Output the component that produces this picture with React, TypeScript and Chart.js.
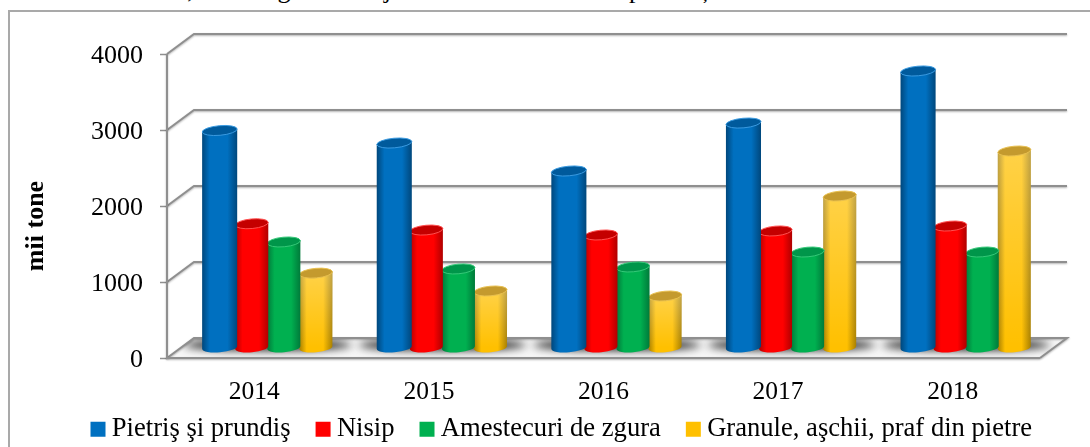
import React, { useEffect, useRef } from "react";
import { Chart, registerables } from "chart.js";

Chart.register(...registerables);

const categories = ["2014", "2015", "2016", "2017", "2018"];
const seriesNames = ["Pietriş şi prundiş", "Nisip", "Amestecuri de zgura", "Granule, aşchii, praf din pietre"];
const pietris = [2862, 2697, 2329, 2960, 3645];
const nisip = [1635, 1552, 1487, 1540, 1605];
const zgura = [1395, 1040, 1066, 1263, 1263];
const granule = [985, 750, 684, 2000, 2592];
const seriesValues = [pietris, nisip, zgura, granule];
const seriesColors = ["#0070c0", "#ff0000", "#00b050", "#ffc000"];
const capColors = ["#005a9c", "#c40000", "#00964a", "#c49a2e"];
const edgeColors = ["#00477c", "#b00000", "#007a3a", "#a87f00"];
const rimColors = ["#3a9ae0", "#ff5050", "#35c878", "#e8c050"];
const extraWidth = [3, 1, 1, 1];
const yTicks = [0, 1000, 2000, 3000, 4000];
const yTitle = "mii tone";
const sentence = "rele din care base, au înregistrat majoritatea volumului de producție.";

const SERIF = "'Liberation Serif', 'Times New Roman', serif";
const DX = 27, DY = -20; // depth of the 3D box

const box3d = {
  id: "box3d",
  beforeDatasetsDraw(chart: any) {
    const { ctx, chartArea: a, scales } = chart;
    const y = scales.y, x = scales.x;
    const y0 = y.getPixelForValue(0);
    ctx.save();
    ctx.lineJoin = "miter";
    ctx.beginPath();
    ctx.moveTo(a.left, y0);
    ctx.lineTo(a.left + DX, y0 + DY);
    ctx.lineTo(a.right + DX, y0 + DY);
    ctx.lineTo(a.right, y0);
    ctx.closePath();
    ctx.fillStyle = "#f7f7f7";
    ctx.fill();
    ctx.save();
    ctx.clip();
    ctx.filter = "blur(4px)";
    ctx.fillStyle = "rgba(30,30,30,1)";
    categories.forEach((_, i) => {
      ctx.beginPath();
      ctx.ellipse(x.getPixelForTick(i) + DX / 2, y0 + DY / 2 - 3, 84, 5.5, 0, 0, Math.PI * 2);
      ctx.fill();
    });
    ctx.restore();
    ctx.strokeStyle = "#8f8f8f";
    ctx.lineWidth = 2;
    ctx.shadowColor = "rgba(0,0,0,0.3)";
    ctx.shadowBlur = 2;
    ctx.shadowOffsetY = 1;
    yTicks.forEach((t) => {
      const p = y.getPixelForValue(t);
      ctx.beginPath();
      ctx.moveTo(a.left, p);
      ctx.lineTo(a.left + DX, p + DY);
      ctx.lineTo(a.right + DX, p + DY);
      if (t === 0) ctx.lineTo(a.right, p);
      ctx.stroke();
    });
    ctx.beginPath();
    ctx.moveTo(a.left, y.getPixelForValue(4000));
    ctx.lineTo(a.left, y0);
    ctx.lineTo(a.right, y0);
    ctx.stroke();
    ctx.restore();
    ctx.save();
    ctx.translate(36, 226);
    ctx.rotate(-Math.PI / 2);
    ctx.font = `bold 26px ${SERIF}`;
    ctx.fillStyle = "#000";
    ctx.textAlign = "center";
    ctx.textBaseline = "middle";
    ctx.fillText(yTitle, 0, 0);
    ctx.restore();
  },
  beforeDatasetDraw(chart: any, args: any) {
    const { ctx } = chart;
    const k = args.index;
    const meta = args.meta;
    ctx.save();
    ctx.translate(DX / 2, DY / 2);
    meta.data.forEach((el: any) => {
      const { x, y, base, width } = el.getProps(["x", "y", "base", "width"], true);
      const w = width + extraWidth[k];
      const l = x - w / 2, r = x + w / 2;
      const tilt = -0.09, ry = 4.8;
      const g = ctx.createLinearGradient(l, 0, r, 0);
      g.addColorStop(0, edgeColors[k]);
      g.addColorStop(0.22, seriesColors[k]);
      g.addColorStop(0.72, seriesColors[k]);
      g.addColorStop(1, edgeColors[k]);
      const body = () => {
        ctx.beginPath();
        ctx.moveTo(l, y + 1.5);
        ctx.lineTo(l, base + 1.5);
        ctx.ellipse(x, base, w / 2, ry, tilt, Math.PI, 0, true);
        ctx.lineTo(r, y - 1.5);
        ctx.closePath();
      };
      body();
      ctx.fillStyle = g;
      ctx.fill();
      if (k === 3) {
        const v = ctx.createLinearGradient(0, y, 0, base);
        v.addColorStop(0, "rgba(255,255,255,0.28)");
        v.addColorStop(1, "rgba(255,255,255,0)");
        body();
        ctx.fillStyle = v;
        ctx.fill();
      }
      ctx.beginPath();
      ctx.ellipse(x, y, w / 2, ry, tilt, 0, Math.PI * 2);
      ctx.fillStyle = capColors[k];
      ctx.fill();
      ctx.lineWidth = 1;
      ctx.strokeStyle = rimColors[k];
      ctx.stroke();
    });
    ctx.restore();
    return false;
  },
};

const placeLegend = {
  id: "placeLegend",
  beforeLayout(chart: any) {
    const legend = chart.legend;
    if (!legend.__patched) {
      legend.__patched = true;
      const fit = legend.fit;
      legend.fit = function () {
        this.maxWidth = 3000;
        fit.call(this);
        this.width = 1090;
        this.height = 29;
      };
    }
  },
  afterLayout(chart: any) {
    chart.legend.left = 65.5;
    chart.legend.right = 3000;
    chart.legend.top = 384;
  },
};

export default function App() {
  const ref = useRef<HTMLCanvasElement>(null);
  useEffect(() => {
    const chart = new Chart(ref.current!, {
      type: "bar",
      data: {
        labels: categories,
        datasets: seriesNames.map((label, i) => ({
          label,
          data: seriesValues[i],
          backgroundColor: seriesColors[i],
          borderWidth: 0,
          categoryPercentage: 0.735,
          barPercentage: 1,
        })),
      },
      options: {
        animation: false,
        responsive: false,
        layout: { padding: { left: 0, right: 50, top: 54, bottom: 0 } },
        plugins: {
          tooltip: { enabled: false },
          legend: {
            position: "bottom",
            align: "start",
            labels: {
              usePointStyle: true,
              pointStyle: "rect",
              boxWidth: 1,
              boxHeight: 15,
              padding: 32,
              color: "#000",
              font: { family: SERIF, size: 26.6 },
            },
          },
        },
        scales: {
          x: {
            grid: { display: false },
            border: { display: false },
            ticks: { color: "#000", padding: 11, font: { family: SERIF, size: 25.5 } },
            afterFit: (s: any) => { s.height = 60; },
          },
          y: {
            min: 0,
            max: 4000,
            afterBuildTicks: (s: any) => { s.ticks = yTicks.map((value) => ({ value })); },
            grid: { drawOnChartArea: false, tickLength: 7, tickColor: "#8f8f8f", tickWidth: 1.5 },
            border: { display: false },
            ticks: { color: "#000", padding: 17, labelOffset: 2, font: { family: SERIF, size: 26 }, callback: (v: any) => String(v) },
            afterFit: (s: any) => { s.width = 167; },
          },
        },
      },
      plugins: [box3d, placeLegend],
    } as any);
    return () => chart.destroy();
  }, []);
  return (
    <div style={{ position: "fixed", inset: 0, overflow: "hidden", background: "#fff" }}>
      <div style={{ position: "absolute", left: -3, top: -22, whiteSpace: "nowrap", fontFamily: SERIF, fontSize: 26, lineHeight: "24px", color: "#000", wordSpacing: 3 }}>
        {sentence}
      </div>
      <div style={{ position: "absolute", left: 8, top: 10, width: 1200, height: 600, borderLeft: "2px solid #a9a9a9", borderTop: "2px solid #a9a9a9" }} />
      <canvas ref={ref} width={1090} height={447} style={{ position: "absolute", left: 0, top: 0 }} />
    </div>
  );
}
